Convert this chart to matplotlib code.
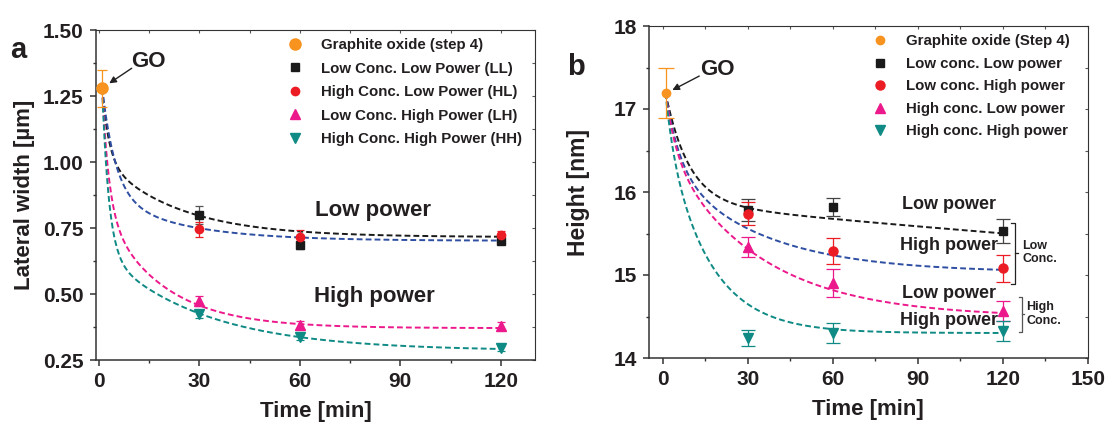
import numpy as np
import matplotlib
matplotlib.use("Agg")
import matplotlib.pyplot as plt
from matplotlib.ticker import MultipleLocator, FormatStrFormatter

plt.rcParams['font.family'] = ['Liberation Sans', 'DejaVu Sans']
plt.rcParams['font.weight'] = 'bold'
plt.rcParams['axes.labelweight'] = 'bold'

TXT = '#231f20'
C_GO = '#f7931e'
C_BLACK = '#1a1a1a'
C_RED = '#ec1c24'
C_PINK = '#ec198c'
C_TEAL = '#0f8a85'
C_BLUE = '#2e4ea2'

# ---------------- lateral width (panel a) ----------------
t_points = [30, 60, 120]
go_t = 1
go_a = 1.28
go_a_err = 0.07
ll_a = [0.799, 0.684, 0.702]
ll_a_err = [0.034, 0.012, 0.010]
hl_a = [0.745, 0.717, 0.723]
hl_a_err = [0.028, 0.025, 0.015]
lh_a = [0.474, 0.383, 0.380]
lh_a_err = [0.020, 0.015, 0.015]
hh_a = [0.424, 0.338, 0.294]
hh_a_err = [0.015, 0.012, 0.010]

# ---------------- height (panel b) ----------------
go_b = 17.195
go_b_err = 0.30
ll_b = [15.78, 15.82, 15.53]
ll_b_err = [0.13, 0.11, 0.15]
lh_b = [15.74, 15.29, 15.08]
lh_b_err = [0.14, 0.16, 0.16]
hl_b = [15.34, 14.90, 14.57]
hl_b_err = [0.12, 0.17, 0.12]
hh_b = [14.24, 14.30, 14.33]
hh_b_err = [0.10, 0.12, 0.12]

# second-order exponential decay fits: y0, A1, t1, A2, t2
fit_a_ll = [0.71556, 0.44575, 2.0, 0.30652, 22.5]
fit_a_hl = [0.70155, 0.52224, 4.0, 0.17952, 22.5]
fit_a_lh = [0.37065, 0.75323, 2.0, 0.47742, 17.5]
fit_a_hh = [0.28473, 1.02341, 2.0, 0.38404, 30.0]
fit_b_ll = [14.14431, 1.49791, 8.25, 1.72732, 497.5]
fit_b_lh = [15.02881, 1.07467, 5.0, 1.32652, 32.5]
fit_b_hl = [14.49015, 0.90951, 3.75, 2.07102, 32.5]
fit_b_hh = [14.30043, 0.69530, 2.75, 2.57744, 15.0]


def exp_dec2(t, p):
    y0, a1, t1, a2, t2 = p
    return y0 + a1 * np.exp(-t / t1) + a2 * np.exp(-t / t2)


fig = plt.figure(figsize=(11.08, 4.22), dpi=100)
W, H = 1108, 422
ax_a = fig.add_axes([95.5 / W, 1 - 360 / H, (535.3 - 95.5) / W, 330 / H])
ax_b = fig.add_axes([648.5 / W, 1 - 358 / H, (1088 - 648.5) / W, 332 / H])

# fitted decay curves
tt = np.linspace(go_t, 120, 400)
curve_cols = [C_BLACK, C_BLUE, C_PINK, C_TEAL]
for p, col in zip([fit_a_ll, fit_a_hl, fit_a_lh, fit_a_hh], curve_cols):
    ax_a.plot(tt, exp_dec2(tt, p), color=col, lw=1.4, dashes=(3, 1.6), zorder=2)
for p, col in zip([fit_b_ll, fit_b_lh, fit_b_hl, fit_b_hh], curve_cols):
    ax_b.plot(tt, exp_dec2(tt, p), color=col, lw=1.4, dashes=(3, 1.6), zorder=2)


def series(ax, x, y, err, marker, color, ms, label, ecolor=None, cap=3.0):
    cont = ax.errorbar(x, y, yerr=err, fmt=marker, color=color, ms=ms,
                       ecolor=ecolor or color, elinewidth=0.9, capsize=cap,
                       capthick=0.9, zorder=4, mec=color)
    line = cont.lines[0]
    line.set_label(label)
    return line


# panel a
handles_a = [
    series(ax_a, [go_t], [go_a], [go_a_err], 'o', C_GO, 8, 'Graphite oxide (step 4)', cap=3.5),
    series(ax_a, t_points, ll_a, ll_a_err, 's', C_BLACK, 5.5, 'Low Conc. Low Power (LL)',
           ecolor='#555555'),
    series(ax_a, t_points, hl_a, hl_a_err, 'o', C_RED, 6, 'High Conc. Low Power (HL)'),
    series(ax_a, t_points, lh_a, lh_a_err, '^', C_PINK, 6.5, 'Low Conc. High Power (LH)'),
    series(ax_a, t_points, hh_a, hh_a_err, 'v', C_TEAL, 6.5, 'High Conc. High Power (HH)'),
]

# panel b
handles_b = [
    series(ax_b, [go_t], [go_b], [go_b_err], 'o', C_GO, 6, 'Graphite oxide (Step 4)', cap=5.5),
    series(ax_b, t_points, ll_b, ll_b_err, 's', C_BLACK, 5.5, 'Low conc. Low power',
           ecolor='#444444', cap=5),
    series(ax_b, t_points, lh_b, lh_b_err, 'o', C_RED, 6.5, 'Low conc. High power', cap=5),
    series(ax_b, t_points, hl_b, hl_b_err, '^', C_PINK, 7, 'High conc. Low power', cap=5),
    series(ax_b, t_points, hh_b, hh_b_err, 'v', C_TEAL, 7.5, 'High conc. High power', cap=5),
]

for ax in (ax_a, ax_b):
    for s in ax.spines.values():
        s.set_color('#333333')
        s.set_linewidth(0.8)
    ax.spines['left'].set_linewidth(1.1)
    ax.spines['bottom'].set_linewidth(1.1)
    ax.xaxis.set_major_locator(MultipleLocator(30))
    ax.xaxis.set_minor_locator(MultipleLocator(15))
    ax.tick_params(axis='both', which='major', direction='out', length=4.5, width=1.1,
                   labelsize=15, colors='#333333', labelcolor=TXT, pad=4)
    ax.tick_params(axis='both', which='minor', direction='out', length=2.5, width=1.0,
                   colors='#333333')
    ax.set_xlabel('Time [min]', fontsize=16, color=TXT, labelpad=7.5)

ax_a.set_xlim(-1, 130.3)
ax_a.set_ylim(0.25, 1.50)
ax_a.yaxis.set_major_locator(MultipleLocator(0.25))
ax_a.yaxis.set_minor_locator(MultipleLocator(0.125))
ax_a.yaxis.set_major_formatter(FormatStrFormatter('%.2f'))
ax_a.set_ylabel('Lateral width [µm]', fontsize=16, color=TXT, labelpad=6)

ax_b.set_xlim(-5, 150)
ax_b.set_ylim(14, 18)
ax_b.yaxis.set_major_locator(MultipleLocator(1))
ax_b.yaxis.set_minor_locator(MultipleLocator(0.5))
ax_b.set_ylabel('Height [nm]', fontsize=16.5, color=TXT, labelpad=17)

# small inward ticks along the top and right frame
for ax in (ax_a, ax_b):
    top = ax.secondary_xaxis('top')
    top.xaxis.set_major_locator(MultipleLocator(15))
    top.tick_params(direction='in', length=2.5, width=0.8, colors='#555555',
                    labeltop=False)
    right = ax.secondary_yaxis('right')
    right.yaxis.set_major_locator(ax.yaxis.get_minor_locator())
    right.tick_params(direction='in', length=2.5, width=0.8, colors='#555555',
                      labelright=False)
    for sp in list(top.spines.values()) + list(right.spines.values()):
        sp.set_visible(False)

# legends
leg_a = ax_a.legend(handles=handles_a, loc='upper left', bbox_to_anchor=(0.437, 0.975),
                    frameon=False, fontsize=10.8, handlelength=1.0, handletextpad=1.2,
                    labelspacing=0.63, borderpad=0, borderaxespad=0)
leg_b = ax_b.legend(handles=handles_b, loc='upper left', bbox_to_anchor=(0.51, 0.975),
                    frameon=False, fontsize=10.8, handlelength=1.0, handletextpad=1.2,
                    labelspacing=0.57, borderpad=0, borderaxespad=0)
for leg in (leg_a, leg_b):
    for txt in leg.get_texts():
        txt.set_color(TXT)

# panel letters
fig.text(18.5 / W, 1 - 50 / H, 'a', fontsize=21, color=TXT, ha='center', va='center')
fig.text(576 / W, 1 - 67 / H, 'b', fontsize=21, color=TXT, ha='center', va='center')

# GO call-outs
arrow_kw = dict(arrowstyle='-|>', color='#222222', lw=1.0, mutation_scale=10,
                shrinkA=0, shrinkB=0)
ax_a.text(9.6, 1.379, 'GO', fontsize=16, color=TXT, ha='left', va='center')
ax_a.annotate('', xy=(3.1, 1.298), xytext=(9.8, 1.355), arrowprops=arrow_kw)
ax_b.text(13.3, 17.47, 'GO', fontsize=16, color=TXT, ha='left', va='center')
ax_b.annotate('', xy=(3.4, 17.228), xytext=(12.9, 17.397), arrowprops=arrow_kw)

# group labels
ax_a.text(81.8, 0.818, 'Low power', fontsize=16, color=TXT, ha='center', va='center')
ax_a.text(82.2, 0.49, 'High power', fontsize=16, color=TXT, ha='center', va='center')

ax_b.text(101, 15.85, 'Low power', fontsize=13, color=TXT, ha='center', va='center')
ax_b.text(101, 15.35, 'High power', fontsize=13, color=TXT, ha='center', va='center')
ax_b.text(101, 14.78, 'Low power', fontsize=13, color=TXT, ha='center', va='center')
ax_b.text(101, 14.45, 'High power', fontsize=13, color=TXT, ha='center', va='center')

# concentration brackets
ax_b.plot([122.8, 124.1, 124.1, 122.8], [15.63, 15.63, 14.89, 14.89], color='#222222',
          lw=0.9, clip_on=False)
ax_b.plot([124.1, 125.2], [15.27, 15.27], color='#222222', lw=0.9, clip_on=False)
ax_b.text(126.9, 15.27, 'Low\nConc.', fontsize=9, color=TXT, ha='left', va='center',
          linespacing=1.15)
ax_b.plot([125.5, 126.7, 126.7, 125.5], [14.73, 14.73, 14.31, 14.31], color='#555555',
          lw=0.9, clip_on=False)
ax_b.plot([126.7, 127.6], [14.53, 14.53], color='#555555', lw=0.9, clip_on=False)
ax_b.text(128.3, 14.53, 'High\nConc.', fontsize=9, color=TXT, ha='left', va='center',
          linespacing=1.15)

fig.savefig('out.png', dpi=100)
